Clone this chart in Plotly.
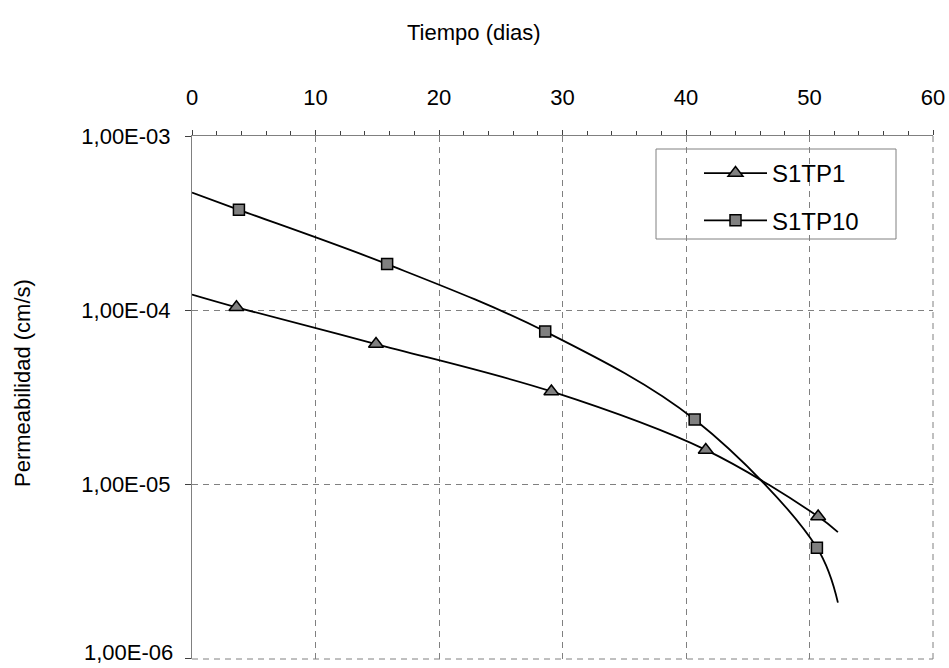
import plotly.graph_objects as go

# Permeability measurements over time for two specimens
dias_s1tp1 = [3.6, 14.9, 29.1, 41.6, 50.7]
perm_s1tp1 = [1.04e-4, 6.4e-5, 3.42e-5, 1.58e-5, 6.55e-6]

dias_s1tp10 = [3.8, 15.8, 28.6, 40.7, 50.6]
perm_s1tp10 = [3.77e-4, 1.84e-4, 7.55e-5, 2.36e-5, 4.34e-6]

# Ends of the fitted trend curves (day 0 and last projected day)
tendencia_inicio_dia = 0.0
tendencia_fin_dia = 52.3
tendencia_s1tp1 = [1.23e-4, 5.33e-6]
tendencia_s1tp10 = [4.73e-4, 2.10e-6]

y_tick_vals = [1e-6, 1e-5, 1e-4, 1e-3]
y_tick_text = ["1,00E-06", "1,00E-05", "1,00E-04", "1,00E-03"]

FONT = "Liberation Sans, Arial, sans-serif"
GRID = "#808080"
DASH = "6px,5px"
FS = 22

W, H = 949, 668
L, R, T, B = 192, 16, 136, 9
PW, PH = W - L - R, H - T - B


def px_x(p):
    return (p - L) / PW


def px_y(p):
    return (H - B - p) / PH


def serie(nombre, dias, perm, tendencia, simbolo, tam):
    x = [tendencia_inicio_dia] + dias + [tendencia_fin_dia]
    y = [tendencia[0]] + perm + [tendencia[1]]
    return go.Scatter(
        x=x, y=y, name=nombre, mode="lines+markers",
        line=dict(color="black", width=1.8, shape="spline", smoothing=1.0),
        marker=dict(symbol=simbolo, size=tam, color="#808080",
                    line=dict(color="black", width=1.5)),
        selectedpoints=list(range(1, len(dias) + 1)),
        unselected=dict(marker=dict(opacity=0)),
        legendgroup=nombre,
    )


fig = go.Figure()
fig.add_trace(serie("S1TP1", dias_s1tp1, perm_s1tp1, tendencia_s1tp1, "triangle-up", 13))
fig.add_trace(serie("S1TP10", dias_s1tp10, perm_s1tp10, tendencia_s1tp10, "square", 11))

# the lowest tick label is lifted slightly so it stays inside the page
etiquetas_eje = list(y_tick_text)
etiqueta_inferior = etiquetas_eje[0]
etiquetas_eje[0] = ""

fig.update_layout(
    width=W, height=H,
    margin=dict(l=L, r=R, t=T, b=B, autoexpand=False),
    paper_bgcolor="white", plot_bgcolor="white",
    font=dict(family=FONT, size=FS, color="black"),
    showlegend=True,
    legend=dict(
        x=px_x(699), y=px_y(151),
        xanchor="left", yanchor="top",
        bgcolor="rgba(0,0,0,0)", borderwidth=0,
        font=dict(family=FONT, size=24, color="black"),
        traceorder="grouped", tracegroupgap=13, itemwidth=63,
    ),
    shapes=[
        # legend frame
        dict(type="rect", xref="paper", yref="paper",
             x0=px_x(656), x1=px_x(896), y0=px_y(149), y1=px_y(239),
             line=dict(color=GRID, width=1), fillcolor="rgba(0,0,0,0)"),
        # dashed grid along the lower and right edges of the plot area
        dict(type="line", xref="paper", yref="paper", x0=0, x1=1, y0=0, y1=0,
             line=dict(color=GRID, width=1, dash=DASH)),
        dict(type="line", xref="paper", yref="paper", x0=1, x1=1, y0=0, y1=1,
             line=dict(color=GRID, width=1, dash=DASH)),
    ],
    annotations=[
        dict(text="Tiempo (dias)", xref="paper", yref="paper",
             x=px_x(474), y=px_y(32),
             xanchor="center", yanchor="middle", showarrow=False,
             font=dict(family=FONT, size=FS, color="black")),
        dict(text="Permeabilidad (cm/s)", xref="paper", yref="paper",
             x=px_x(22), y=px_y(383),
             xanchor="center", yanchor="middle", showarrow=False, textangle=-90,
             font=dict(family=FONT, size=FS, color="black")),
        dict(text=etiqueta_inferior, xref="paper", yref="paper",
             x=px_x(175), y=px_y(667),
             xanchor="right", yanchor="bottom", showarrow=False,
             font=dict(family=FONT, size=FS, color="black")),
    ],
)

fig.update_xaxes(
    side="top", range=[0, 60], dtick=10, tick0=0, automargin=False,
    showline=True, linecolor=GRID, linewidth=1, mirror=False,
    ticks="outside", ticklen=5, tickcolor="#404040", tickwidth=1,
    minor=dict(dtick=2, ticks="outside", ticklen=4, tickcolor="#404040", showgrid=False),
    showgrid=True, gridcolor=GRID, gridwidth=1, griddash=DASH,
    zeroline=False, ticklabelstandoff=16,
    tickfont=dict(family=FONT, size=FS, color="black"),
)
fig.update_yaxes(
    type="log", range=[-6.001, -3], automargin=False,
    tickvals=y_tick_vals, ticktext=etiquetas_eje,
    showline=True, linecolor=GRID, linewidth=1,
    ticks="outside", ticklen=6, tickcolor="#404040", tickwidth=1,
    showgrid=True, gridcolor=GRID, gridwidth=1, griddash=DASH,
    zeroline=False, ticklabelstandoff=10,
    tickfont=dict(family=FONT, size=FS, color="black"),
)

fig.write_html("out.html")
